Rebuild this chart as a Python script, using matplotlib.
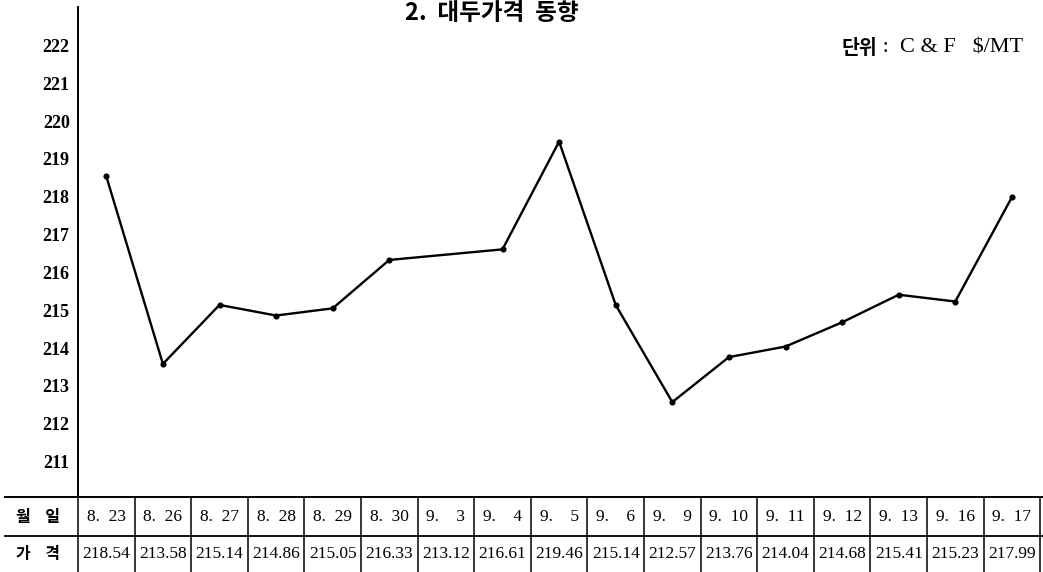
import numpy as np
import matplotlib.pyplot as plt

# 대두가격 동향 (C&F $/MT)
dates = ['8.  23', '8.  26', '8.  27', '8.  28', '8.  29', '8.  30', '9.    3', '9.    4', '9.    5',
         '9.    6', '9.    9', '9.  10', '9.  11', '9.  12', '9.  13', '9.  16', '9.  17']
prices = [218.54, 213.58, 215.14, 214.86, 215.05, 216.33, 213.12, 216.61, 219.46,
          215.14, 212.57, 213.76, 214.04, 214.68, 215.41, 215.23, 217.99]
# 9.3 is listed in the table but not drawn on the line in the original
skip_on_line = ['9.    3']
yticks = [211, 212, 213, 214, 215, 216, 217, 218, 219, 220, 221, 222]

W, H = 1043, 572
fig = plt.figure(figsize=(W / 100, H / 100), dpi=100)

col_w = 56.6
x0 = 78
x_left = -0.5
x_right = -0.5 + (W - x0) / col_w

# chart area
ax = fig.add_axes([x0 / W, (H - 497) / H, (W - x0) / W, (497 - 7) / H])
xs = np.arange(len(dates))
mask = np.array([d not in skip_on_line for d in dates])
ax.plot(xs[mask], np.array(prices)[mask], color='black', lw=1.7,
        marker='o', ms=3.4, mfc='black', mec='black')
ax.set_xlim(x_left, x_right)
ax.set_ylim(210.06, 223.02)
ax.set_yticks(yticks)
ax.set_yticklabels([str(v) for v in yticks], fontfamily='Liberation Serif',
                   fontweight='bold', fontsize=13)
ax.tick_params(axis='y', length=0, pad=6)
ax.set_xticks([])
for s in ['top', 'right', 'bottom']:
    ax.spines[s].set_visible(False)
ax.spines['left'].set_linewidth(1.4)
ax.patch.set_alpha(0)

# table below the chart
axt = fig.add_axes([0, 0, 1, 75 / H])
axt.set_xlim(x_left - x0 / col_w, x_right)
axt.set_ylim(75, 0)
axt.axis('off')
x_start = x_left - 73 / col_w
axt.plot([x_start, x_right], [0, 0], color='black', lw=1.4, clip_on=False)
axt.plot([x_start, x_right], [38.7, 38.7], color='black', lw=1.3)
for k in range(len(dates) + 1):
    axt.plot([k - 0.5, k - 0.5], [0, 75], color='black', lw=1.1)

hdr_x = x_left - 40 / col_w
axt.text(hdr_x, 20, '월    일', ha='center', va='center', fontsize=11.5,
         fontfamily='Noto Sans CJK KR', fontweight='bold')
axt.text(hdr_x, 57, '가    격', ha='center', va='center', fontsize=11.5,
         fontfamily='Noto Sans CJK KR', fontweight='bold')
for i, (d, p) in enumerate(zip(dates, prices)):
    axt.text(i, 20, d, ha='center', va='center', fontsize=12.5,
             fontfamily='Liberation Serif')
    axt.text(i, 57, f'{p:.2f}', ha='center', va='center', fontsize=12.5,
             fontfamily='Liberation Serif')

# title and unit note
fig.text(492 / W, (H - 1) / H, '2.  대두가격  동향', ha='center', va='top',
         fontsize=17, fontfamily='Noto Sans CJK KR', fontweight='bold')

unit = fig.text(1023 / W, (H - 48) / H, ' :  C & F   $/MT', ha='right', va='center',
                fontsize=16, fontfamily='Liberation Serif')
bb = unit.get_window_extent(renderer=fig.canvas.get_renderer())
fig.text(bb.x0 / W, (H - 48) / H, '단위', ha='right', va='center',
         fontsize=14, fontfamily='Noto Sans CJK KR', fontweight='bold')

fig.savefig('out.png', dpi=100)
